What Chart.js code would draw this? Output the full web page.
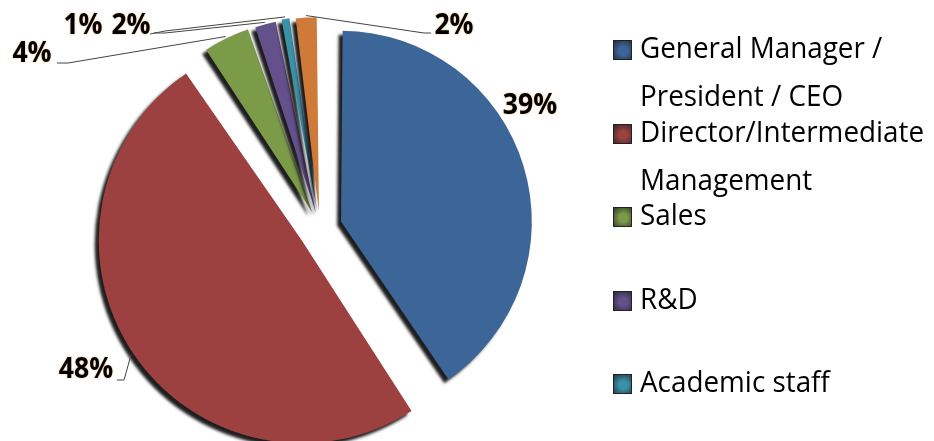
<!DOCTYPE html>
<html>
<head>
<meta charset="utf-8">
<script src="https://cdn.jsdelivr.net/npm/chart.js@4.4.1/dist/chart.umd.min.js"></script>
<style>
  html, body { margin: 0; padding: 0; background: #fff; }
  #wrap { position: relative; width: 934px; height: 441px; overflow: hidden; }
  #legend { position: absolute; left: 613px; top: 0; font-family: "Open Sans", sans-serif; color: #000; }
  .item { position: absolute; left: 0; white-space: nowrap; }
  .box { position: absolute; left: 0; top: 0; width: 17px; height: 18px; border: 1px solid #222; }
  .txt { position: absolute; left: 27px; top: -17px; font-size: 29px; line-height: 48px; transform: scaleX(0.96); transform-origin: left top; }
</style>
</head>
<body>
<div id="wrap">
  <canvas id="myChart" width="934" height="441"></canvas>
  <div id="legend"></div>
</div>
<script>
// categories (legend), shares in percent, labels shown on the chart
var categories = [
    ['General Manager /', 'President / CEO'],
    ['Director/Intermediate', 'Management'],
    'Sales',
    'R&D',
    'Academic staff',
    'Other'
];
var shares = [39, 48, 4, 2, 1, 2];
var pctLabels = ['39%', '48%', '4%', '2%', '1%', '2%'];
var colors = ['#3d6698', '#9c4040', '#7b9b49', '#64508a', '#3a91a8', '#cf7a38'];

// where each percent label sits and where its leader line bends (null = no line)
var labelPos = [[530, 105], [86, 369], [32, 53], [131, 25], [83, 25], [454, 25]];
var leaderStart = [null, [117, 380], [57, 63], [154, 33], [150, 34], [431, 33]];
var leaderBend = [null, [124, 380], [68, 63], [165, 33], [165, 31], [424, 33]];
// Chart.js moves arcs by offset/4 (and stretches them a little)
var explode = [88, 88, 70, 64, 64, 64];

// soft dark shadow under the slices, like the 3D effect of the original
var shadowPlugin = {
    id: 'shadow',
    beforeDatasetsDraw: function(chart) {
        var ctx = chart.ctx;
        ctx.save();
        ctx.shadowColor = 'rgba(5,5,5,0.9)';
        ctx.shadowBlur = 3;
        ctx.shadowOffsetX = -4;
        ctx.shadowOffsetY = 4;
    },
    afterDatasetsDraw: function(chart) {
        chart.ctx.restore();
    }
};

// percent labels with leader lines
var labelPlugin = {
    id: 'pctLabels',
    afterDraw: function(chart) {
        var ctx = chart.ctx;
        var arcs = chart.getDatasetMeta(0).data;
        ctx.save();
        for (var i = 0; i < arcs.length; i++) {
            var a = arcs[i];
            var mid = (a.startAngle + a.endAngle) / 2;
            var circ = a.endAngle - a.startAngle;
            var t = explode[i] / 4;
            var fix = 1 - Math.sin(Math.min(Math.PI, circ));
            var r = a.outerRadius + t * fix;
            var cx = a.x + Math.cos(mid) * t;
            var cy = a.y + Math.sin(mid) * t;
            if (leaderStart[i]) {
                var ax = cx + Math.cos(mid) * (r + 2);
                var ay = cy + Math.sin(mid) * (r + 2);
                ctx.strokeStyle = '#444';
                ctx.lineWidth = 1;
                ctx.beginPath();
                ctx.moveTo(leaderStart[i][0], leaderStart[i][1]);
                ctx.lineTo(leaderBend[i][0], leaderBend[i][1]);
                ctx.lineTo(ax, ay);
                ctx.stroke();
            }
            ctx.save();
            ctx.translate(labelPos[i][0], labelPos[i][1]);
            ctx.scale(0.95, 1);
            ctx.font = 'bold 28px "Open Sans"';
            ctx.textAlign = 'center';
            ctx.textBaseline = 'middle';
            ctx.shadowColor = 'rgba(230,140,40,0.7)';
            ctx.shadowBlur = 2;
            ctx.fillStyle = '#000';
            ctx.fillText(pctLabels[i], 0, 1);
            ctx.restore();
        }
        ctx.restore();
    }
};

var ctx = document.getElementById('myChart');
var myChart = new Chart(ctx, {
    type: 'pie',
    data: {
        labels: categories,
        datasets: [{
            data: shares,
            backgroundColor: colors,
            borderWidth: 0,
            offset: explode,
            hoverOffset: 0
        }]
    },
    options: {
        responsive: false,
        animation: false,
        radius: 181,
        layout: { padding: { left: 120, right: 414, top: 28, bottom: 13 } },
        plugins: {
            legend: { display: false },
            tooltip: { enabled: false }
        }
    },
    plugins: [shadowPlugin, labelPlugin]
});

// legend as html, one row every 83.5px
var legend = document.getElementById('legend');
for (var i = 0; i < categories.length; i++) {
    var lines = Array.isArray(categories[i]) ? categories[i] : [categories[i]];
    var item = document.createElement('div');
    item.className = 'item';
    item.style.top = (40 + i * 83.5) + 'px';
    item.innerHTML = '<div class="box" style="background: radial-gradient(circle at 55% 55%, ' +
        colors[i] + ' 30%, #1c1c24 120%)"></div>' +
        '<div class="txt">' + lines.join('<br>') + '</div>';
    legend.appendChild(item);
}
</script>
</body>
</html>
